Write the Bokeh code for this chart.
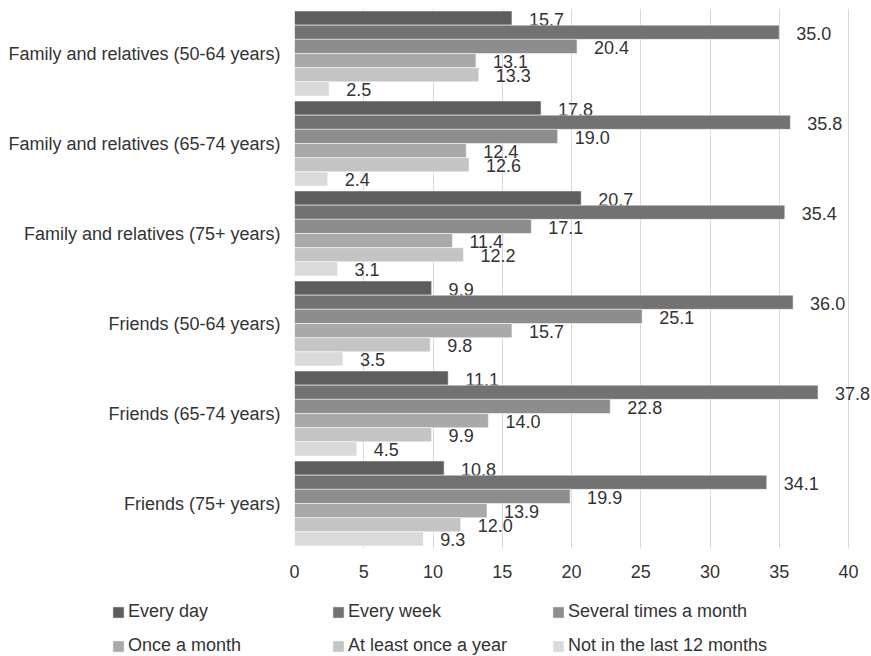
from bokeh.plotting import figure
from bokeh.models import ColumnDataSource, FactorRange, Range1d, FixedTicker, Legend, LegendItem
from bokeh.transform import dodge
from bokeh.core.properties import value
from bokeh.embed import file_html
from bokeh.resources import INLINE

categories = [
    "Family and relatives (50-64 years)",
    "Family and relatives (65-74 years)",
    "Family and relatives (75+ years)",
    "Friends (50-64 years)",
    "Friends (65-74 years)",
    "Friends (75+ years)",
]
series_names = [
    "Every day",
    "Every week",
    "Several times a month",
    "Once a month",
    "At least once a year",
    "Not in the last 12 months",
]
every_day = [15.7, 17.8, 20.7, 9.9, 11.1, 10.8]
every_week = [35.0, 35.8, 35.4, 36.0, 37.8, 34.1]
several_times_month = [20.4, 19.0, 17.1, 25.1, 22.8, 19.9]
once_month = [13.1, 12.4, 11.4, 15.7, 14.0, 13.9]
once_year = [13.3, 12.6, 12.2, 9.8, 9.9, 12.0]
not_last_12 = [2.5, 2.4, 3.1, 3.5, 4.5, 9.3]
x_ticks = [0, 5, 10, 15, 20, 25, 30, 35, 40]

series_values = [every_day, every_week, several_times_month, once_month, once_year, not_last_12]
colors = ["#5e5e5e", "#727272", "#8d8d8d", "#a9a9a9", "#c4c4c4", "#dadada"]

FONT = "Liberation Sans"
TEXT_COLOR = "#333333"
W = 871

p = figure(
    width=W, height=590,
    y_range=FactorRange(*reversed(categories)),
    x_range=Range1d(0, 41.66),
    output_backend="svg", toolbar_location=None,
    min_border_left=294, min_border_right=0, min_border_top=8, min_border_bottom=42,
)
p.outline_line_color = None
p.ygrid.grid_line_color = None
p.xgrid.grid_line_color = "#d9d9d9"
p.xgrid.grid_line_width = 1

# legend strip (separate root so that it is not frame-aligned with the chart)
lp = figure(
    width=W, height=66, x_range=Range1d(-2, -1), y_range=FactorRange(*reversed(categories)),
    output_backend="svg", toolbar_location=None,
    min_border_left=0, min_border_right=0, min_border_top=0, min_border_bottom=0,
)
lp.axis.visible = False
lp.grid.visible = False
lp.outline_line_color = None

bar_h = 0.1574
legend_items = []
for i, (name, vals, col) in enumerate(zip(series_names, series_values, colors)):
    off = (2.5 - i) * bar_h
    src = ColumnDataSource(dict(cat=categories, val=vals, lbl=[f"{v:.1f}" for v in vals]))
    p.hbar(y=dodge("cat", off, range=p.y_range), left=0, right="val", height=bar_h,
           source=src, fill_color=col, line_color="white", line_width=0.5)
    p.text(x="val", y=dodge("cat", off, range=p.y_range), text="lbl", source=src,
           x_offset=17, y_offset=1, text_align="left", text_baseline="middle",
           text_font=value(FONT), text_font_size=value("18px"), text_color=TEXT_COLOR)
    # same data, outside the legend strip's visible range: only its legend swatch shows
    r = lp.hbar(y="cat", left=0, right="val", height=bar_h, source=src,
                fill_color=col, line_color="white", line_width=0.5)
    legend_items.append(LegendItem(label=name, renderers=[r]))

for ax in (p.xaxis, p.yaxis):
    ax.axis_line_color = None
    ax.major_tick_line_color = None
    ax.minor_tick_line_color = None
    ax.major_tick_out = 0
    ax.major_tick_in = 0
    ax.major_label_text_font = FONT
    ax.major_label_text_font_size = "18px"
    ax.major_label_text_color = TEXT_COLOR
p.xaxis.ticker = FixedTicker(ticks=x_ticks)
p.xaxis.major_label_standoff = 16
p.yaxis.major_label_standoff = 14

def make_legend(items, loc):
    return Legend(
        items=items, location=loc, orientation="horizontal",
        glyph_width=14, glyph_height=14, label_standoff=3, label_width=203,
        label_height=20, spacing=0, padding=0, margin=0,
        border_line_color=None, background_fill_alpha=0,
        label_text_font=FONT, label_text_font_size="18px", label_text_color=TEXT_COLOR,
    )

lp.add_layout(make_legend(legend_items[:3], (111, 34)))
lp.add_layout(make_legend(legend_items[3:], (111, 0)))

open("out.html", "w").write(file_html([p, lp], INLINE))
